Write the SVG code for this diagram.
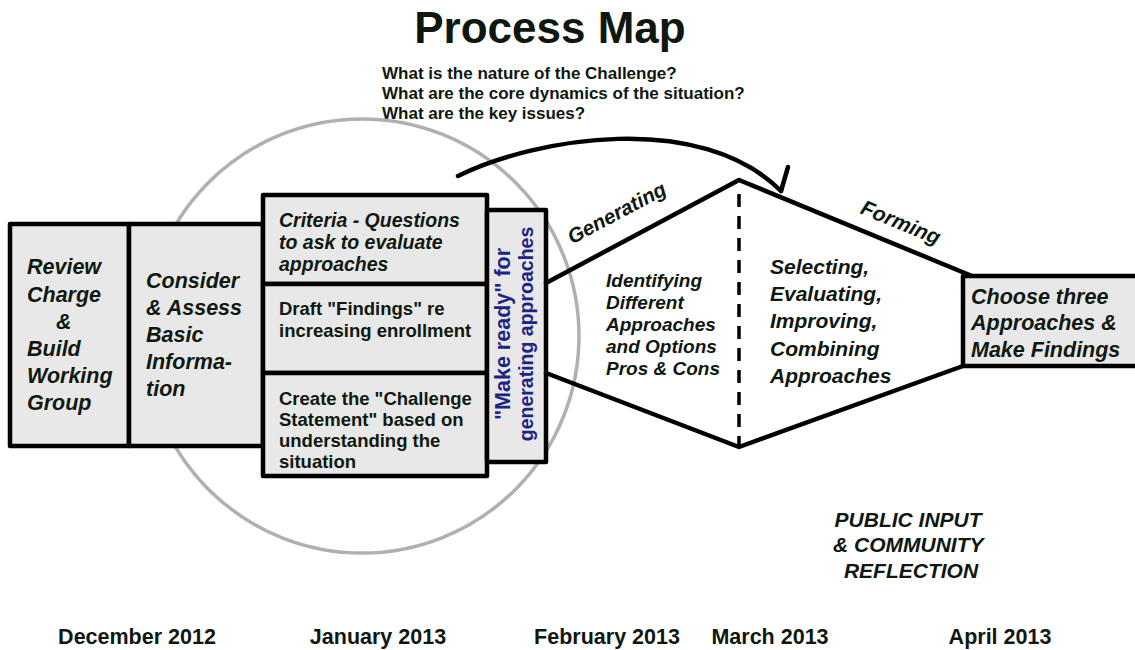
<svg xmlns="http://www.w3.org/2000/svg" width="1135" height="650" viewBox="0 0 1135 650">
<style>
  .box { fill: #e8e8e8; stroke: #000; stroke-width: 4.5; stroke-linejoin: round; }
  .ln { fill: none; stroke: #000; stroke-width: 4.5; stroke-linejoin: round; stroke-linecap: round; }
  .t { font-family: "Liberation Sans", Arial, sans-serif; font-weight: bold; fill: #0f180f; }
  .it { font-style: italic; }
  .blue { fill: #1c2585; }
</style>
<rect width="1135" height="650" fill="#fff"/>

<text class="t" x="550" y="43" font-size="44" text-anchor="middle">Process Map</text>
<g id="questions">
  <text class="t" x="382" y="79" font-size="17">What is the nature of the Challenge?</text>
  <text class="t" x="382" y="99" font-size="17">What are the core dynamics of the situation?</text>
  <text class="t" x="382" y="119" font-size="17">What are the key issues?</text>
</g>

<circle id="focus-circle" cx="362" cy="336" r="217" fill="none" stroke="#b0b0b0" stroke-width="3.5"/>

<g id="node-review">
  <rect class="box" x="10" y="224" width="119" height="222"/>
  <text class="t it" font-size="21.5">
    <tspan x="27" y="274">Review</tspan>
    <tspan x="27" y="302">Charge</tspan>
    <tspan x="56" y="329">&amp;</tspan>
    <tspan x="27" y="356">Build</tspan>
    <tspan x="27" y="383">Working</tspan>
    <tspan x="27" y="410">Group</tspan>
  </text>
</g>

<g id="node-consider">
  <rect class="box" x="129" y="224" width="134" height="222"/>
  <text class="t it" font-size="21.5">
    <tspan x="146" y="288">Consider</tspan>
    <tspan x="146" y="315">&amp; Assess</tspan>
    <tspan x="146" y="342">Basic</tspan>
    <tspan x="146" y="369">Informa-</tspan>
    <tspan x="146" y="396">tion</tspan>
  </text>
</g>

<g id="node-criteria">
  <rect class="box" x="263" y="195" width="224" height="89"/>
  <text class="t it" font-size="19.5">
    <tspan x="279" y="227">Criteria - Questions</tspan>
    <tspan x="279" y="249">to ask to evaluate</tspan>
    <tspan x="279" y="271">approaches</tspan>
  </text>
</g>

<g id="node-findings">
  <rect class="box" x="263" y="284" width="224" height="89"/>
  <text class="t" font-size="18.5">
    <tspan x="279" y="315">Draft "Findings" re</tspan>
    <tspan x="279" y="337">increasing enrollment</tspan>
  </text>
</g>

<g id="node-challenge">
  <rect class="box" x="263" y="373" width="224" height="103"/>
  <text class="t" font-size="18.5">
    <tspan x="279" y="405">Create the "Challenge</tspan>
    <tspan x="279" y="426">Statement" based on</tspan>
    <tspan x="279" y="447">understanding the</tspan>
    <tspan x="279" y="468">situation</tspan>
  </text>
</g>

<g id="node-makeready">
  <rect class="box" x="487" y="210" width="59" height="252"/>
  <text class="t blue" font-size="21.5" text-anchor="middle" transform="translate(510,334) rotate(-90)">"Make ready" for</text>
  <text class="t blue" font-size="19.5" text-anchor="middle" transform="translate(533,334) rotate(-90)">generating approaches</text>
</g>

<g id="connectors">
  <path class="ln" stroke-width="2.8" d="M458,176 C535,138 700,110 781,191"/>
  <path class="ln" stroke-width="2.8" d="M781,191 L788,167"/>
</g>

<g id="node-phases">
  <polyline class="ln" points="546,283 739,180 972,276"/>
  <polyline class="ln" points="546,373 739,447 963,366"/>
  <line x1="739" y1="194" x2="739" y2="447" stroke="#000" stroke-width="3.5" stroke-dasharray="13,9"/>
  <text class="t it" font-size="20.5" text-anchor="middle" transform="translate(620,219) rotate(-28)">Generating</text>
  <text class="t it" font-size="21" text-anchor="middle" transform="translate(898,229) rotate(22.4)">Forming</text>
  <text class="t it" font-size="19">
    <tspan x="606" y="287">Identifying</tspan>
    <tspan x="606" y="309">Different</tspan>
    <tspan x="606" y="331">Approaches</tspan>
    <tspan x="606" y="353">and Options</tspan>
    <tspan x="606" y="375">Pros &amp; Cons</tspan>
  </text>
  <text class="t it" font-size="21">
    <tspan x="770" y="274">Selecting,</tspan>
    <tspan x="770" y="301">Evaluating,</tspan>
    <tspan x="770" y="328">Improving,</tspan>
    <tspan x="770" y="356">Combining</tspan>
    <tspan x="770" y="383">Approaches</tspan>
  </text>
</g>

<g id="node-choose">
  <rect class="box" x="963" y="276" width="180" height="90"/>
  <text class="t it" font-size="21.5">
    <tspan x="971" y="304">Choose three</tspan>
    <tspan x="971" y="330">Approaches &amp;</tspan>
    <tspan x="971" y="357">Make Findings</tspan>
  </text>
</g>

<g id="public-input">
  <text class="t it" font-size="21" text-anchor="middle">
    <tspan x="911" y="527">PUBLIC INPUT</tspan>
    <tspan x="911" y="552">&amp; COMMUNITY</tspan>
    <tspan x="911" y="578">REFLECTION</tspan>
  </text>
</g>

<g id="timeline">
  <text class="t" font-size="21.5" text-anchor="middle" x="137" y="644">December 2012</text>
  <text class="t" font-size="21.5" text-anchor="middle" x="378" y="644">January 2013</text>
  <text class="t" font-size="21.5" text-anchor="middle" x="607" y="644">February 2013</text>
  <text class="t" font-size="21.5" text-anchor="middle" x="770" y="644">March 2013</text>
  <text class="t" font-size="21.5" text-anchor="middle" x="1000" y="644">April 2013</text>
</g>
</svg>
